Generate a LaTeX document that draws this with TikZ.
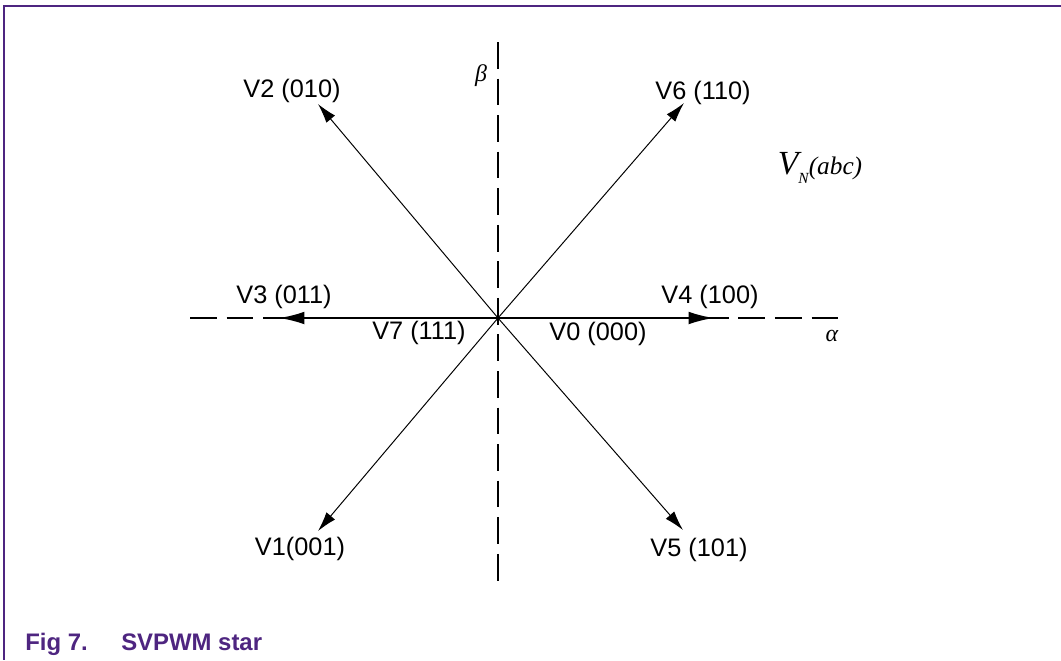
\documentclass[tikz,border=0pt]{standalone}
\usepackage{fontspec}
\setsansfont{Liberation Sans}
\newfontfamily\serifit{Liberation Serif}[ItalicFont=* Italic]
\usepackage{tikz}
\usetikzlibrary{arrows.meta}
\definecolor{nxppurple}{HTML}{4E2580}

\tikzset{
  axis/.style={line width=0.8pt, dash pattern=on 19pt off 7pt},
  vec/.style={line width=0.7pt, -{Latex[length=14pt,width=8pt]}},
  hvec/.style={line width=1.6pt, -{Latex[length=18pt,width=9pt]}},
  lbl/.style={inner sep=0pt},
  greek/.style={inner sep=0pt, font=\serifit\itshape\fontsize{17}{20}\selectfont}
}

\begin{document}
\begin{tikzpicture}[x=0.025cm,y=-0.025cm,font=\sffamily\fontsize{18}{21}\selectfont]
  \useasboundingbox (0,0) rectangle (1061,660);
  \draw[nxppurple,line width=0.9pt] (1061,6) -- (4,6) -- (4,660);
  % axes
  \coordinate (O) at (498,318);
  \coordinate (aL) at (190,318);
  \coordinate (aR) at (842,318);
  \coordinate (bT) at (498,42);
  \coordinate (bB) at (498,582);
  \draw[axis] (aL) -- (aR);
  \draw[axis] (bT) -- (bB);
  \node[greek] (alpha) at (832,336) {α};
  \node[greek] (beta) at (481,76) {β};
  % switching vectors
  \foreach \n/\x/\y in {V2/318/104, V6/684/103, V1/318/531, V5/683/530}{
    \coordinate (\n) at (\x,\y);
    \draw[vec] (O) -- (\n);
  }
  \coordinate (V3) at (279,318);
  \coordinate (V4) at (714,318);
  \draw[hvec] (O) -- (V3);
  \draw[hvec] (O) -- (V4);
  % labels
  \node[lbl] (l2) at (292,91) {V2 (010)};
  \node[lbl] (l6) at (703,93) {V6 (110)};
  \node[lbl] (l3) at (284,297) {V3 (011)};
  \node[lbl] (l4) at (710,297) {V4 (100)};
  \node[lbl] (l7) at (419,333) {V7 (111)};
  \node[lbl] (l0) at (598,334) {V0 (000)};
  \node[lbl] (l1) at (300,549) {V1(001)};
  \node[lbl] (l5) at (699,550) {V5 (101)};
  \node[lbl,font=\serifit\itshape] (vn) at (820,168) {\fontsize{24}{26}\selectfont V\raisebox{-0.25em}{\fontsize{11}{12}\selectfont N}\fontsize{18}{20}\selectfont(abc)};
  % caption
  \node[lbl,anchor=base west,text=nxppurple,font=\sffamily\bfseries\fontsize{17}{20}\selectfont] (fig) at (25,650) {Fig 7.};
  \node[lbl,anchor=base west,text=nxppurple,font=\sffamily\bfseries\fontsize{17}{20}\selectfont] (cap) at (121,650) {SVPWM star};
\end{tikzpicture}
\end{document}
